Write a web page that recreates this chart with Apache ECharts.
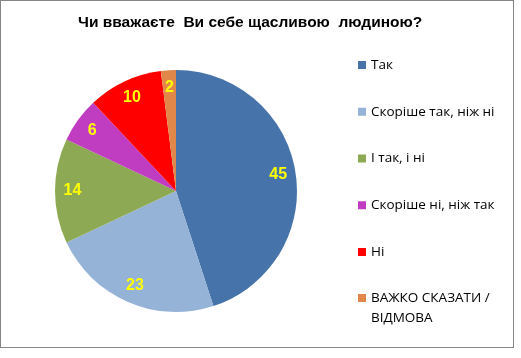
<!DOCTYPE html>
<html><head><meta charset="utf-8">
<script src="https://cdn.jsdelivr.net/npm/echarts@6/dist/echarts.min.js"></script>
<style>html,body{margin:0;padding:0;background:#fff}
#c{position:absolute;left:0;top:0;width:514px;height:348px;border:1px solid #868686;box-sizing:border-box}
</style></head><body><div id="c"></div>
<script>
const title = 'Чи вважаєте  Ви себе щасливою  людиною?';
const categories = ['Так','Скоріше так, ніж ні','І так, і ні','Скоріше ні, ніж так','Ні','ВАЖКО СКАЗАТИ / ВІДМОВА'];
const values = [45,23,14,6,10,2];
const colors = ['#4673A9','#95B3D7','#8EA953','#C03CC0','#FF0000','#E2874A'];
const data = categories.map((n,i)=>({name:n,value:values[i]}));
const font='"Liberation Sans", Arial, sans-serif';
const lfont='"Open Sans", "Liberation Sans", sans-serif';
const chart = echarts.init(document.getElementById('c'));
chart.setOption({
  animation:false,
  color: colors,
  title:{text:title,left:77,top:14,padding:0,textStyle:{fontFamily:font,fontSize:15.5,fontWeight:'bold',color:'#000'}},
  legend:[{orient:'vertical',left:357,top:56,padding:0,itemWidth:8,itemHeight:8,itemGap:30.75,icon:'rect',data:categories.slice(0,5),textStyle:{fontFamily:lfont,fontSize:13.5,color:'#000',lineHeight:16},selectedMode:false},
  {orient:'vertical',left:357,top:267,padding:0,itemWidth:8,itemHeight:8,icon:'rect',data:categories.slice(5),formatter:n=>' \n'+n.replace('/ ','/\n'),textStyle:{fontFamily:lfont,fontSize:13.5,color:'#000',lineHeight:20},selectedMode:false}],
  series:[{type:'pie',center:[175,190],radius:121,startAngle:90,data,label:{show:false},labelLine:{show:false},silent:true},
  {type:'pie',center:[175,190],radius:[80,121],startAngle:90,data,itemStyle:{color:'transparent'},label:{show:true,position:'inside',formatter:'{c}',fontFamily:font,fontSize:16,fontWeight:'bold',color:'#FFFF00'},labelLine:{show:false},silent:true}]
});
</script></body></html>
